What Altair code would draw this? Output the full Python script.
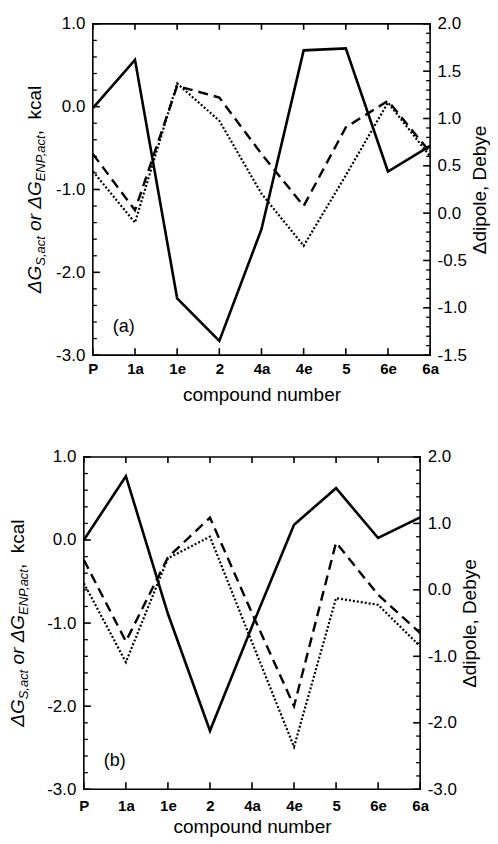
import altair as alt
import pandas as pd

# ---------------- data ----------------
compounds = ["P", "1a", "1e", "2", "4a", "4e", "5", "6e", "6a"]

# panel (a)
a_dipole = [1.11, 1.62, -0.90, -1.35, -0.17, 1.72, 1.74, 0.44, 0.71]   # solid, right axis
a_dashed = [-0.57, -1.25, 0.25, 0.11, -0.57, -1.20, -0.25, 0.07, -0.55]  # left axis
a_dotted = [-0.78, -1.40, 0.28, -0.17, -1.05, -1.68, -0.83, 0.05, -0.60]  # left axis

# panel (b)
b_dipole = [0.75, 1.71, -0.36, -2.12, -0.55, 0.98, 1.53, 0.78, 1.09]
b_dashed = [-0.24, -1.22, -0.21, 0.27, -0.88, -2.00, -0.03, -0.66, -1.12]
b_dotted = [-0.52, -1.47, -0.22, 0.04, -1.23, -2.49, -0.70, -0.78, -1.28]

# axis tick values
left_major = [-3.0, -2.0, -1.0, 0.0, 1.0]
a_right_major = [-1.5, -1.0, -0.5, 0.0, 0.5, 1.0, 1.5, 2.0]
b_right_major = [-3.0, -2.0, -1.0, 0.0, 1.0, 2.0]


def tick_range(lo, hi, step):
    n = int(round((hi - lo) / step))
    return [round(lo + i * step, 2) for i in range(n + 1)]


left_minor = [v for v in tick_range(-3, 1, 0.2) if v not in left_major]
a_right_minor = [v for v in tick_range(-1.5, 2.0, 0.1) if v not in a_right_major]
b_right_minor = [v for v in tick_range(-3, 2, 0.2) if v not in b_right_major]

FONT = "Liberation Sans"
TITLE_SIZE = 19
SUB_SIZE = 13
LABEL_EXPR = "replace(format(datum.value, '.1f'), '\u2212', '-')"
MAJ = 7
MINOR = 4

# approximate Arial/Liberation advance widths (em)
CW = {"Δ": 0.667, "G": 0.778, "S": 0.667, ",": 0.278, "a": 0.556, "c": 0.5,
      "t": 0.278, "o": 0.556, "r": 0.333, "E": 0.667, "N": 0.722, "P": 0.667,
      "k": 0.5, "l": 0.222}
SPACE = 0.278

# left-axis title pieces: text, size, style, baseline shift, spaces before
title_pieces = [
    ("ΔG", TITLE_SIZE, "italic", 0, 0),
    ("S,act", SUB_SIZE, "italic", 4, 0),
    ("or", TITLE_SIZE, "italic", 0, 1),
    ("ΔG", TITLE_SIZE, "italic", 0, 1),
    ("ENP,act", SUB_SIZE, "italic", 4, 0),
    (",", TITLE_SIZE, "normal", 0, -0.3),
    ("kcal", TITLE_SIZE, "normal", 0, 2),
]

ONE = pd.DataFrame({"t": [0]})


def text_len(s, size):
    return sum(CW.get(ch, 0.55) for ch in s) * size


def left_title(base_x, center_y):
    total = sum(text_len(t, s) + g * SPACE * TITLE_SIZE for t, s, _, _, g in title_pieces)
    y = center_y + total / 2
    layers = []
    for t, s, style, shift, g in title_pieces:
        y -= g * SPACE * TITLE_SIZE
        layers.append(
            alt.Chart(pd.DataFrame({"t": [t]}))
            .mark_text(angle=270, align="left", baseline="alphabetic", font=FONT,
                       fontSize=s, fontStyle=style, color="black")
            .encode(text="t:N", x=alt.value(base_x + shift), y=alt.value(y))
        )
        y -= text_len(t, s)
    return layers


def frame_line(x1, x2, y1, y2):
    return alt.Chart(ONE).mark_rule(color="black", strokeWidth=1.6, strokeCap="square").encode(
        x=alt.value(x1), x2=alt.value(x2), y=alt.value(y1), y2=alt.value(y2))


def panel(dip, dsh, dot, r_major, r_minor, r_dom, letter, x0, w, h, title_x,
          lab_pad, title_pad):
    W = x0 + w
    xenc = alt.X(
        "compound:N", sort=compounds, scale=alt.Scale(type="point", padding=0, range=[x0, W]),
        axis=alt.Axis(title="compound number", labelAngle=0, labelFontWeight="bold",
                      labelFontSize=15, labelFont=FONT, ticks=False, tickSize=0,
                      domain=False, grid=False, labelPadding=lab_pad, titleFontSize=TITLE_SIZE,
                      titleFontWeight="normal", titleFont=FONT, titlePadding=title_pad,
                      labelColor="black", titleColor="black"),
    )
    yl = alt.Scale(domain=[-3, 1], nice=False, zero=False)
    yr = alt.Scale(domain=r_dom, nice=False, zero=False)
    yl_axis = alt.Axis(orient="left", values=left_major, labelExpr=LABEL_EXPR, ticks=False,
                       tickSize=0, domain=False, grid=False, labelFontSize=17, offset=-x0,
                       labelFont=FONT, labelPadding=8, title=None, labelColor="black")
    yr_axis = alt.Axis(orient="right", values=r_major, labelExpr=LABEL_EXPR, ticks=False,
                       tickSize=0, domain=False, grid=False, labelFontSize=17,
                       labelFont=FONT, labelPadding=7, title="Δdipole, Debye",
                       titleAngle=270, titleBaseline="top", titleFontSize=TITLE_SIZE,
                       titleFontWeight="normal", titleFont=FONT, titlePadding=4,
                       labelColor="black", titleColor="black")

    df_dsh = pd.DataFrame({"compound": compounds, "value": dsh})
    df_dot = pd.DataFrame({"compound": compounds, "value": dot})
    df_dip = pd.DataFrame({"compound": compounds, "value": dip})

    dashed = alt.Chart(df_dsh).mark_line(color="black", strokeWidth=2.4, strokeDash=[10, 6]).encode(
        x=xenc, y=alt.Y("value:Q", scale=yl, axis=yl_axis))
    dotted = alt.Chart(df_dot).mark_line(color="black", strokeWidth=2.2, strokeDash=[2, 2]).encode(
        x=xenc, y=alt.Y("value:Q", scale=yl, axis=yl_axis))

    def yticks(vals, scale, axis, xa, xb, sw):
        return alt.Chart(pd.DataFrame({"value": vals})).mark_rule(
            color="black", strokeWidth=sw).encode(
            y=alt.Y("value:Q", scale=scale, axis=axis), x=alt.value(xa), x2=alt.value(xb))

    lmaj = yticks(left_major, yl, yl_axis, x0, x0 + MAJ, 1.6)
    lmin = yticks(left_minor, yl, yl_axis, x0, x0 + MINOR, 1.3)
    cdf = pd.DataFrame({"compound": compounds})
    xt_top = alt.Chart(cdf).mark_rule(color="black", strokeWidth=1.6).encode(
        x=xenc, y=alt.value(0), y2=alt.value(MAJ - 1))
    xt_bot = alt.Chart(cdf).mark_rule(color="black", strokeWidth=1.6).encode(
        x=xenc, y=alt.value(h), y2=alt.value(h - MAJ))
    lab = alt.Chart(pd.DataFrame({"t": [letter]})).mark_text(
        font=FONT, fontSize=18, color="black", align="center", baseline="middle").encode(
        text="t:N", x=alt.value(x0 + 31), y=alt.value(h - 28))
    frame = [frame_line(x0, x0, 0, h), frame_line(W, W, 0, h),
             frame_line(x0, W, 0, 0), frame_line(x0, W, h, h)]

    left_layers = [dashed, dotted, lmaj, lmin, xt_top, xt_bot, lab] + frame + left_title(x0 + title_x, h / 2)
    left_group = alt.layer(*left_layers)

    solid = alt.Chart(df_dip).mark_line(color="black", strokeWidth=2.6).encode(
        x=xenc, y=alt.Y("value:Q", scale=yr, axis=yr_axis))
    rmaj = yticks(r_major, yr, yr_axis, W, W - MAJ, 1.6)
    rmin = yticks(r_minor, yr, yr_axis, W, W - MINOR, 1.3)
    right_group = alt.layer(solid, rmaj, rmin)

    return alt.layer(left_group, right_group).resolve_scale(y="independent").properties(width=W, height=h)


top = panel(a_dipole, a_dashed, a_dotted, a_right_major, a_right_minor, [-1.5, 2.0],
            "(a)", 9, 338, 332, -52, 6, 9)
bottom = panel(b_dipole, b_dashed, b_dotted, b_right_major, b_right_minor, [-3.0, 2.0],
               "(b)", 0, 337, 333, -60, 9, 4)

chart = (
    alt.concat(top, bottom, columns=1, spacing=44)
    .properties(padding={"left": 0, "top": 6, "right": 0, "bottom": 0})
    .configure_view(stroke=None)
)

chart.save("out.html", embed_options={"renderer": "svg", "actions": False})
